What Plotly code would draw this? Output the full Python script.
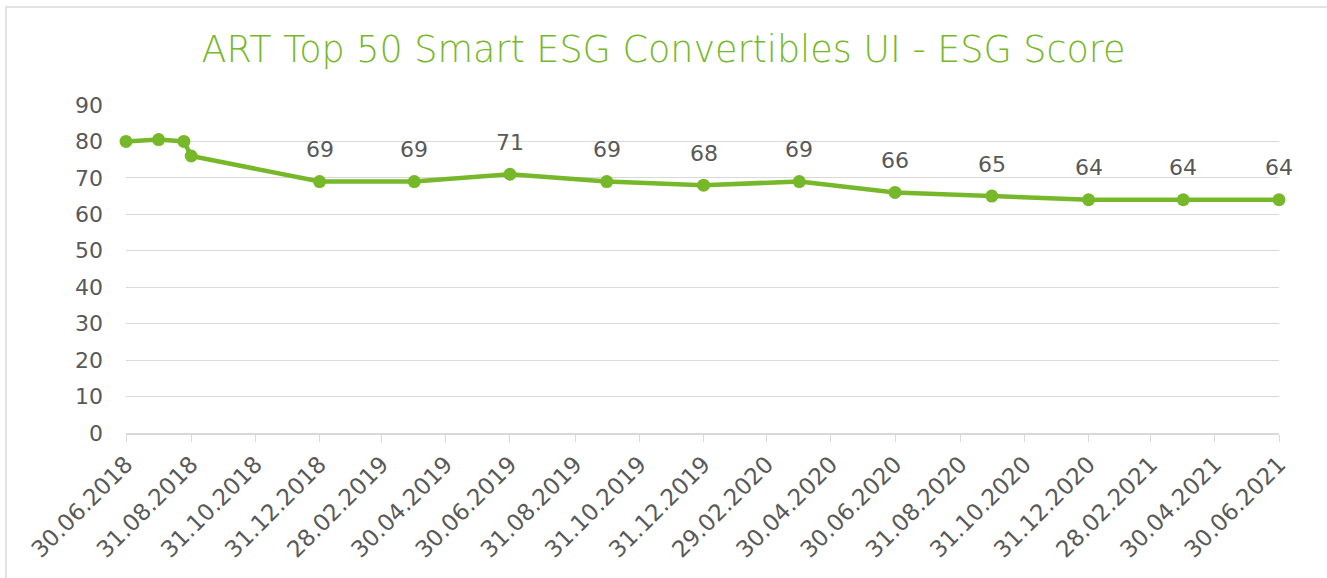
import plotly.graph_objects as go

dates = ["2018-06-30", "2018-07-31", "2018-08-24", "2018-08-31", "2018-12-31",
         "2019-03-31", "2019-06-30", "2019-09-30", "2019-12-31", "2020-03-31",
         "2020-06-30", "2020-09-30", "2020-12-31", "2021-03-31", "2021-06-30"]
scores = [80, 80.5, 80, 76, 69, 69, 71, 69, 68, 69, 66, 65, 64, 64, 64]
labels = ["", "", "", "", "69", "69", "71", "69", "68", "69", "66", "65", "64", "64", "64"]

tick_vals = ["2018-06-30", "2018-08-31", "2018-10-31", "2018-12-31", "2019-02-28",
             "2019-04-30", "2019-06-30", "2019-08-31", "2019-10-31", "2019-12-31",
             "2020-02-29", "2020-04-30", "2020-06-30", "2020-08-31", "2020-10-31",
             "2020-12-31", "2021-02-28", "2021-04-30", "2021-06-30"]
tick_text = ["30.06.2018", "31.08.2018", "31.10.2018", "31.12.2018", "28.02.2019",
             "30.04.2019", "30.06.2019", "31.08.2019", "31.10.2019", "31.12.2019",
             "29.02.2020", "30.04.2020", "30.06.2020", "31.08.2020", "31.10.2020",
             "31.12.2020", "28.02.2021", "30.04.2021", "30.06.2021"]

GREEN = "#77b82a"
GRAY_TXT = "#595959"
FONT = "DejaVu Sans"

fig = go.Figure()
fig.add_trace(go.Scatter(
    x=dates, y=scores, mode="lines+markers",
    line=dict(color=GREEN, width=4.5),
    marker=dict(color=GREEN, size=13),
    cliponaxis=False, showlegend=False, hoverinfo="x+y",
))

for d, v, t in zip(dates, scores, labels):
    if t:
        fig.add_annotation(x=d, y=v, text=t, showarrow=False, yshift=32,
                           font=dict(family=FONT, size=22, color=GRAY_TXT))

fig.update_layout(
    width=1327, height=578,
    margin=dict(l=126, r=48, t=105, b=145),
    paper_bgcolor="white", plot_bgcolor="white",
    title=dict(text="ART Top 50 Smart ESG Convertibles UI - ESG Score",
               x=0.5, xref="container", xanchor="center", y=0.915, yanchor="middle",
               font=dict(family=FONT, size=36.5, color=GREEN, weight=300)),
    xaxis=dict(
        type="date", range=["2018-06-30", "2021-06-30"],
        tickmode="array", tickvals=tick_vals, ticktext=tick_text,
        tickangle=-45, ticks="outside", ticklen=7, tickcolor="#d9d9d9",
        showline=True, linecolor="#d9d9d9", linewidth=1.5,
        showgrid=False, zeroline=False,
        tickfont=dict(family=FONT, size=23, color=GRAY_TXT),
    ),
    yaxis=dict(
        range=[0, 90], tickmode="array", tickvals=list(range(0, 100, 10)),
        showgrid=True, gridcolor="#d9d9d9", gridwidth=1,
        zeroline=False, showline=False, ticks="", ticklabelstandoff=22,
        tickfont=dict(family=FONT, size=22, color=GRAY_TXT),
    ),
    shapes=[dict(type="rect", xref="paper", yref="paper",
                 x0=-120/1153, x1=1.2, y0=-1.0, y1=(433-7)/328,
                 line=dict(color="#d9d9d9", width=1.5), fillcolor="rgba(0,0,0,0)",
                 layer="below")],
)

fig.write_html("out.html", config={"displayModeBar": False},
               post_script="document.body.style.margin='0';")
